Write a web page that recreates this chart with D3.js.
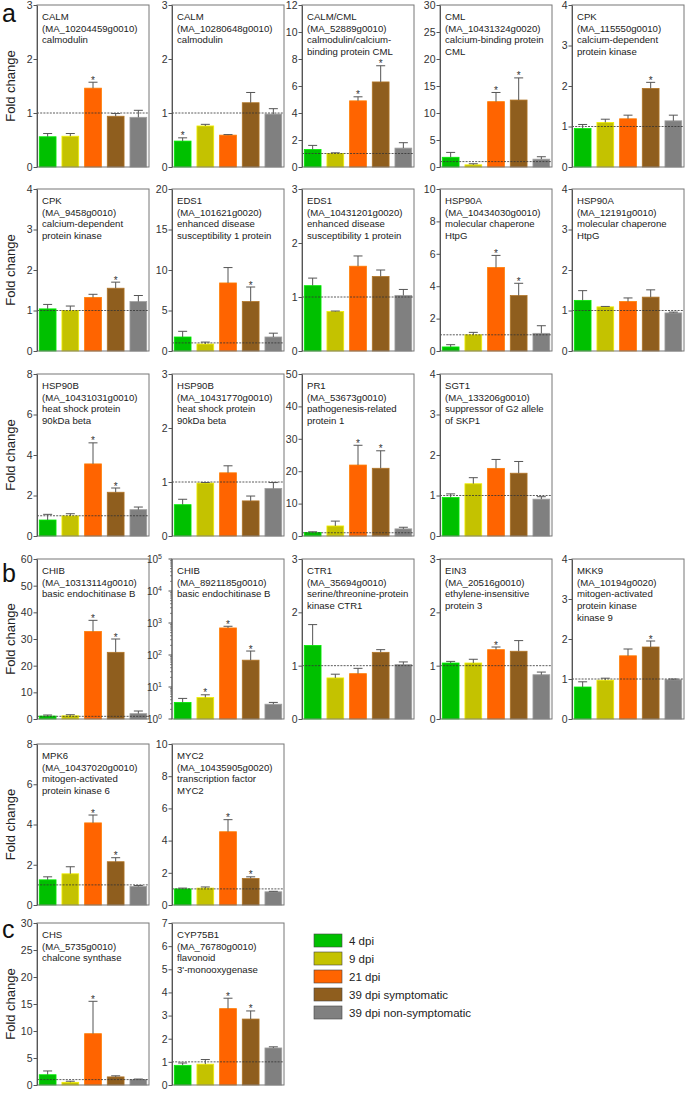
<!DOCTYPE html>
<html><head><meta charset="utf-8">
<script src="https://cdn.jsdelivr.net/npm/d3@7"></script>
<style>body{margin:0;background:#fff}svg{display:block}text{font-family:"Liberation Sans",Arial,Helvetica,sans-serif}</style>
</head><body><svg id="c" width="685" height="1096"></svg>
<script>
const groups = ["4 dpi","9 dpi","21 dpi","39 dpi symptomatic","39 dpi non-symptomatic"];
const colors = ["#00c000","#c4c200","#ff6400","#8f5e1e","#808080"];
const geneSymbols = ["CALM","CALM","CALM/CML","CML","CPK","CPK","EDS1","EDS1","HSP90A","HSP90A","HSP90B","HSP90B","PR1","SGT1","CHIB","CHIB","CTR1","EIN3","MKK9","MPK6","MYC2","CHS","CYP75B1"];
const geneIds = ["(MA_10204459g0010)","(MA_10280648g0010)","(MA_52889g0010)","(MA_10431324g0020)","(MA_115550g0010)","(MA_9458g0010)","(MA_101621g0020)","(MA_10431201g0020)","(MA_10434030g0010)","(MA_12191g0010)","(MA_10431031g0010)","(MA_10431770g0010)","(MA_53673g0010)","(MA_133206g0010)","(MA_10313114g0010)","(MA_8921185g0010)","(MA_35694g0010)","(MA_20516g0010)","(MA_10194g0020)","(MA_10437020g0010)","(MA_10435905g0020)","(MA_5735g0010)","(MA_76780g0010)"];
const geneDescs = [["calmodulin"],["calmodulin"],["calmodulin/calcium-","binding protein CML"],["calcium-binding protein","CML"],["calcium-dependent","protein kinase"],["calcium-dependent","protein kinase"],["enhanced disease","susceptibility 1 protein"],["enhanced disease","susceptibility 1 protein"],["molecular chaperone","HtpG"],["molecular chaperone","HtpG"],["heat shock protein","90kDa beta"],["heat shock protein","90kDa beta"],["pathogenesis-related","protein 1"],["suppressor of G2 allele","of SKP1"],["basic endochitinase B"],["basic endochitinase B"],["serine/threonine-protein","kinase CTR1"],["ethylene-insensitive","protein 3"],["mitogen-activated","protein kinase","kinase 9"],["mitogen-activated","protein kinase 6"],["transcription factor","MYC2"],["chalcone synthase"],["flavonoid","3'-monooxygenase"]];
// mean fold change per group
const means = [
 [0.56,0.57,1.46,0.94,0.92],[0.48,0.76,0.59,1.19,0.98],[1.3,1.0,4.9,6.3,1.4],[1.8,0.4,12.1,12.4,1.45],[0.95,1.1,1.19,1.94,1.14],
 [1.04,1.0,1.32,1.55,1.22],[1.73,0.86,8.4,6.1,1.73],[1.21,0.73,1.57,1.38,1.03],[0.25,1.0,5.15,3.42,1.09],[1.25,1.09,1.22,1.33,0.94],
 [0.79,0.99,3.56,2.16,1.3],[0.58,0.98,1.17,0.65,0.88],[1.1,3.1,21.9,20.9,2.2],[0.95,1.29,1.67,1.55,0.91],
 [1.1,1.2,32.8,25.0,2.0],[3.3,4.7,700,69,2.9],[1.38,0.77,0.85,1.25,1.02],[1.05,1.05,1.3,1.27,0.83],[0.8,0.97,1.58,1.8,0.98],
 [1.25,1.55,4.08,2.15,0.92],[1.0,1.05,4.55,1.65,0.82],
 [1.9,0.5,9.5,1.5,1.0],[0.85,0.9,3.3,2.85,1.6]
];
// mean + error (top of error bar)
const upper = [
 [0.62,0.62,1.57,0.99,1.05],[0.54,0.79,0.6,1.38,1.08],[1.6,1.05,5.2,7.5,1.8],[2.7,0.6,13.8,16.5,1.9],[1.05,1.18,1.28,2.09,1.28],
 [1.15,1.11,1.4,1.7,1.37],[2.43,1.1,10.3,7.9,2.2],[1.35,0.74,1.76,1.5,1.14],[0.39,1.15,5.9,4.18,1.56],[1.49,1.1,1.31,1.51,0.96],
 [1.07,1.1,4.6,2.37,1.43],[0.68,0.99,1.3,0.74,0.99],[1.3,4.6,28,26.3,2.7],[1.04,1.44,1.89,1.84,0.97],
 [1.5,1.6,37,30,3.0],[4.4,5.7,790,133,3.3],[1.77,0.84,0.95,1.3,1.07],[1.08,1.12,1.35,1.47,0.88],[0.93,1.02,1.75,1.95,1.0],
 [1.4,1.9,4.47,2.35,0.97],[1.05,1.12,5.3,1.75,0.85],
 [2.6,0.7,15.5,1.7,1.1],[0.95,1.1,3.75,3.2,1.65]
];
// significance markers
const stars = [
 [0,0,1,0,0],[1,0,0,0,0],[0,0,1,1,0],[0,0,1,1,0],[0,0,0,1,0],
 [0,0,0,1,0],[0,0,0,1,0],[0,0,0,0,0],[0,0,1,1,0],[0,0,0,0,0],
 [0,0,1,1,0],[0,0,0,0,0],[0,0,1,1,0],[0,0,0,0,0],
 [0,0,1,1,0],[0,1,1,1,0],[0,0,0,0,0],[0,0,1,0,0],[0,0,0,1,0],
 [0,0,1,1,0],[0,0,1,1,0],
 [0,0,1,0,0],[0,0,1,1,0]
];
const yMax = [3,3,12,30,4, 4,20,3,10,4, 8,3,50,4, 60,100000,3,3,4, 8,10, 30,7];
const yStep = [1,1,2,5,1, 1,5,1,2,1, 2,1,10,1, 10,10,1,1,1, 2,2, 5,1];
const logPanels = [15];
const rowSizes = [5,5,4,5,2,2];
const sectionLabels = ["a","b","c"];

const svg = d3.select("#c");
const colX = [37,172,302,440,572];
const plotW = 112;
const rowTop = [5,189,374,559,744,923];
const rowH = [162,162,162,160,161,162];

const panelPos = [];
rowSizes.forEach((n,r)=>{ for(let c=0;c<n;c++){ panelPos.push({r,c}); } });

panelPos.forEach((p,i)=>{
  const x0 = colX[p.c], y0 = rowTop[p.r], h = rowH[p.r];
  const g = svg.append("g").attr("transform",`translate(${x0},${y0})`);
  const isLog = logPanels.includes(i);
  const y = isLog ? d3.scaleLog().domain([1,yMax[i]]).range([h,0]) : d3.scaleLinear().domain([0,yMax[i]]).range([h,0]);
  const x = d3.scaleBand().domain(groups).range([0,plotW]).paddingInner(0.26).paddingOuter(0.1);
  const base = isLog ? y(1) : y(0);
  const data = groups.map((gname,k)=>({gname,k,m:means[i][k],u:upper[i][k],s:stars[i][k]}));
  g.selectAll("rect.bar").data(data).join("rect").attr("class","bar")
    .attr("x",d=>x(d.gname)).attr("width",x.bandwidth())
    .attr("y",d=>y(d.m)).attr("height",d=>base-y(d.m))
    .attr("fill",d=>colors[d.k]).attr("stroke",d=>d3.color(colors[d.k]).brighter(0.6)).attr("stroke-width",0.8);
  if(!isLog){
    g.append("line").attr("x1",0).attr("x2",plotW).attr("y1",y(1)).attr("y2",y(1))
      .attr("stroke","#333").attr("stroke-width",0.8).attr("stroke-dasharray","2,1.2");
  }
  const eb = g.selectAll("g.eb").data(data).join("g").attr("class","eb");
  eb.append("line").attr("x1",d=>x(d.gname)+x.bandwidth()/2).attr("x2",d=>x(d.gname)+x.bandwidth()/2)
    .attr("y1",d=>y(d.m)).attr("y2",d=>y(d.u)).attr("stroke","#555").attr("stroke-width",1);
  eb.append("line").attr("x1",d=>x(d.gname)+x.bandwidth()/2-4.5).attr("x2",d=>x(d.gname)+x.bandwidth()/2+4.5)
    .attr("y1",d=>y(d.u)).attr("y2",d=>y(d.u)).attr("stroke","#555").attr("stroke-width",1);
  eb.filter(d=>d.s).append("text").attr("x",d=>x(d.gname)+x.bandwidth()/2).attr("y",d=>y(d.u)+1.5)
    .attr("text-anchor","middle").attr("font-size",10).attr("fill","#333").text("*");
  g.append("rect").attr("x",0).attr("y",0).attr("width",plotW).attr("height",h)
    .attr("fill","none").attr("stroke","#777").attr("stroke-width",1);
  if(isLog){
    const ax = g.append("g");
    const majors = d3.range(0,6).map(e=>Math.pow(10,e));
    const minors = [];
    for(let e=0;e<5;e++) for(let m=2;m<10;m++) minors.push(m*Math.pow(10,e));
    ax.append("line").attr("x1",0).attr("x2",0).attr("y1",0).attr("y2",h).attr("stroke","#555");
    ax.selectAll("line.mi").data(minors).join("line").attr("class","mi").attr("x1",-2).attr("x2",0)
      .attr("y1",d=>y(d)).attr("y2",d=>y(d)).attr("stroke","#555").attr("stroke-width",0.7);
    ax.selectAll("line.ma").data(majors).join("line").attr("class","ma").attr("x1",-3.5).attr("x2",0)
      .attr("y1",d=>y(d)).attr("y2",d=>y(d)).attr("stroke","#555");
    const lt = ax.selectAll("text").data(majors).join("text").attr("x",-10).attr("y",d=>y(d)+4)
      .attr("text-anchor","end").attr("font-size",10).attr("fill","#333");
    lt.append("tspan").text("10");
    lt.append("tspan").attr("dy",-4).attr("font-size",7).text((d,k)=>k);
  } else {
    const ticks = d3.range(0,yMax[i]+1e-9,yStep[i]);
    const ax = g.append("g").call(d3.axisLeft(y).tickValues(ticks).tickSize(3.5).tickSizeOuter(0).tickFormat(d3.format("d")));
    ax.select(".domain").attr("stroke","#555");
    ax.selectAll(".tick line").attr("stroke","#555");
    ax.selectAll(".tick text").attr("font-size",10.5).attr("fill","#333").attr("x",-4.5)
      .style("font-family",'"Liberation Sans",Arial,sans-serif');
  }
  const lines = [geneSymbols[i],geneIds[i]].concat(geneDescs[i]);
  g.selectAll("text.lab").data(lines).join("text").attr("class","lab")
    .attr("x",5).attr("y",(d,k)=>15+k*11.7).attr("font-size",9.6).attr("fill","#222").text(d=>d);
  if(p.c===0){
    svg.append("text").attr("transform",`translate(15,${y0+h/2}) rotate(-90)`)
      .attr("text-anchor","middle").attr("font-size",13).attr("fill","#222").text("Fold change");
  }
});
const letterY = [22,582,938];
sectionLabels.forEach((s,k)=>{
  svg.append("text").attr("x",2).attr("y",letterY[k]).attr("font-size",25).attr("fill","#111").text(s);
});
const lg = svg.append("g").attr("transform","translate(314,934)");
const li = lg.selectAll("g").data(groups).join("g").attr("transform",(d,k)=>`translate(0,${k*18})`);
li.append("rect").attr("width",28).attr("height",13).attr("fill",(d,k)=>colors[k]).attr("stroke","#444").attr("stroke-width",0.6);
li.append("text").attr("x",35).attr("y",11).attr("font-size",11.5).attr("fill","#222").text(d=>d);
</script></body></html>
